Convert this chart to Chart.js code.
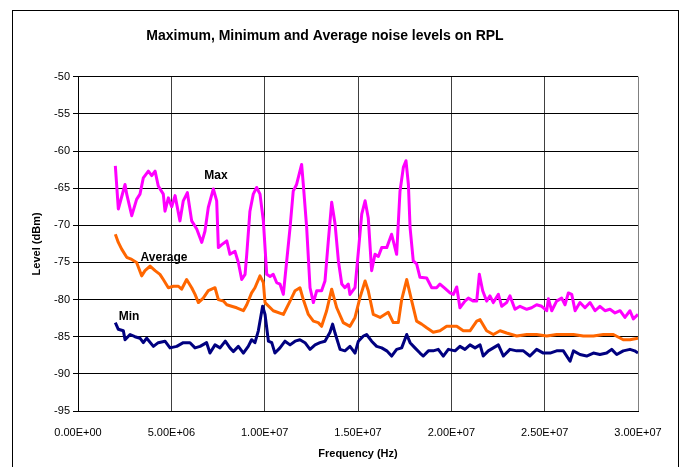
<!DOCTYPE html>
<html>
<head>
<meta charset="utf-8">
<script src="https://cdn.jsdelivr.net/npm/chart.js@4.4.1/dist/chart.umd.min.js"></script>
<style>
  html, body { margin: 0; padding: 0; background: #fff; }
  #wrap { width: 680px; height: 467px; }
</style>
</head>
<body>
<div id="wrap"><canvas id="grafico" width="680" height="467"></canvas></div>
<script>
// frequencies in MHz (converted to Hz below), levels in dBm
const maxFreq = [2.0, 2.16, 2.52, 2.61, 2.88, 3.14, 3.32, 3.50, 3.77, 3.95, 4.13, 4.30, 4.57, 4.66, 4.84, 5.02, 5.20, 5.46, 5.64, 5.86,
  6.09, 6.36, 6.63, 6.80, 6.98, 7.25, 7.43, 7.52, 7.70, 7.97, 8.14, 8.41, 8.59, 8.77, 8.95, 9.04, 9.21, 9.39, 9.57, 9.75,
  9.93, 10.11, 10.29, 10.46, 10.64, 10.82, 11.00, 11.18, 11.36, 11.53, 11.71, 11.98, 12.07, 12.25, 12.43, 12.61, 12.79, 13.05, 13.23, 13.41,
  13.59, 13.77, 13.95, 14.13, 14.30, 14.48, 14.57, 14.84, 15.02, 15.20, 15.38, 15.55, 15.73, 15.91, 16.09, 16.27, 16.54, 16.80, 17.07, 17.25,
  17.43, 17.57, 17.70, 17.79, 17.96, 18.14, 18.32, 18.68, 18.95, 19.21, 19.39, 19.66, 19.93, 20.11, 20.29, 20.46, 20.73, 20.91, 21.18, 21.36,
  21.50, 21.68, 21.89, 22.07, 22.25, 22.52, 22.70, 22.96, 23.14, 23.41, 23.68, 24.04, 24.30, 24.57, 24.84, 25.11, 25.20, 25.38, 25.64, 25.91,
  26.09, 26.27, 26.45, 26.63, 26.89, 27.16, 27.43, 27.70, 27.96, 28.23, 28.50, 28.77, 29.04, 29.30, 29.57, 29.75, 30.00];
const maxLevel = [-62.0, -67.8, -64.5, -65.8, -68.7, -66.5, -65.8, -63.6, -62.7, -63.3, -62.7, -64.7, -65.8, -68.1, -66.3, -67.5, -66.0, -69.4, -66.7, -65.6,
  -69.4, -70.5, -72.3, -70.8, -67.6, -65.1, -66.7, -73.0, -72.6, -72.1, -73.9, -73.5, -75.0, -77.3, -76.6, -73.9, -68.1, -65.8, -64.9, -65.8,
  -69.4, -76.6, -76.9, -76.6, -77.7, -77.9, -79.3, -74.8, -70.3, -65.4, -64.5, -61.8, -64.5, -70.3, -78.4, -80.4, -78.8, -78.8, -77.5, -72.1,
  -66.9, -69.8, -74.8, -77.9, -78.4, -77.9, -79.3, -78.4, -73.5, -68.5, -66.7, -69.0, -76.1, -73.9, -74.2, -73.0, -73.0, -71.2, -73.9, -65.4,
  -62.2, -61.3, -64.5, -70.3, -74.8, -75.2, -77.0, -77.1, -78.4, -78.4, -77.9, -78.5, -79.1, -79.3, -78.3, -81.1, -80.2, -79.8, -80.2, -80.2,
  -76.6, -78.8, -80.2, -79.5, -80.4, -79.3, -80.9, -80.4, -79.5, -81.3, -80.9, -81.3, -81.1, -80.7, -80.9, -81.5, -79.9, -81.5, -80.2, -79.8,
  -80.7, -79.1, -79.3, -81.5, -80.4, -81.1, -80.4, -81.5, -80.9, -81.5, -81.3, -81.8, -81.5, -82.4, -81.5, -82.6, -82.0];

const avgFreq = [2.0, 2.16, 2.34, 2.61, 2.88, 3.14, 3.41, 3.59, 3.86, 4.13, 4.39, 4.57, 4.84, 5.11, 5.38, 5.55, 5.82, 6.09, 6.27, 6.45,
  6.71, 6.98, 7.34, 7.52, 7.79, 7.97, 8.23, 8.50, 8.86, 9.04, 9.30, 9.48, 9.75, 9.93, 10.02, 10.46, 11.00, 11.36, 11.63, 11.89,
  12.07, 12.34, 12.61, 12.87, 13.05, 13.32, 13.59, 13.86, 14.21, 14.57, 14.84, 15.11, 15.38, 15.55, 15.82, 16.18, 16.62, 16.89, 17.16, 17.34,
  17.61, 17.88, 18.14, 18.41, 18.68, 19.03, 19.39, 19.75, 20.29, 20.64, 21.00, 21.36, 21.54, 21.89, 22.25, 22.61, 22.96, 23.50, 24.04, 24.57,
  25.11, 25.64, 26.54, 27.07, 27.61, 28.14, 28.68, 29.21, 29.57, 30.00];
const avgLevel = [-71.2, -72.3, -73.2, -74.3, -74.6, -75.0, -76.8, -76.1, -75.5, -76.1, -76.6, -77.3, -78.4, -78.2, -78.2, -78.6, -77.3, -78.4, -79.3, -80.4,
  -79.8, -78.8, -78.4, -80.0, -80.2, -80.7, -80.9, -81.1, -81.5, -80.7, -79.1, -78.4, -76.8, -77.7, -80.4, -81.5, -82.0, -80.2, -78.8, -78.4,
  -80.0, -82.0, -82.9, -83.1, -83.6, -81.5, -78.6, -81.1, -83.1, -83.6, -82.4, -79.7, -77.5, -78.8, -82.0, -82.4, -81.7, -83.1, -83.1, -80.0,
  -77.3, -80.2, -82.9, -83.3, -83.8, -84.4, -84.2, -83.6, -83.6, -84.2, -84.2, -82.9, -82.7, -84.2, -84.7, -84.2, -84.5, -84.9, -84.7, -84.7,
  -84.9, -84.7, -84.7, -84.9, -84.9, -84.7, -84.7, -85.4, -85.4, -85.2];

const minFreq = [2.0, 2.16, 2.43, 2.52, 2.79, 3.05, 3.32, 3.50, 3.68, 4.04, 4.30, 4.66, 4.93, 5.29, 5.64, 6.00, 6.27, 6.54, 6.89, 7.07,
  7.34, 7.61, 7.89, 8.14, 8.32, 8.59, 8.86, 9.12, 9.30, 9.48, 9.66, 9.89, 10.02, 10.20, 10.38, 10.55, 10.82, 11.09, 11.36, 11.63,
  11.89, 12.16, 12.43, 12.70, 12.96, 13.23, 13.50, 13.64, 13.77, 14.04, 14.30, 14.57, 14.84, 15.02, 15.29, 15.46, 15.73, 16.00, 16.27, 16.54,
  16.80, 17.07, 17.34, 17.61, 17.79, 18.05, 18.32, 18.50, 18.77, 19.03, 19.30, 19.57, 19.84, 20.20, 20.46, 20.73, 21.00, 21.27, 21.54, 21.71,
  21.98, 22.25, 22.52, 22.79, 23.14, 23.50, 23.86, 24.21, 24.57, 24.93, 25.29, 25.64, 26.00, 26.36, 26.54, 26.89, 27.25, 27.61, 27.96, 28.32,
  28.59, 28.86, 29.21, 29.57, 29.82, 30.00];
const minLevel = [-83.1, -84.0, -84.2, -85.4, -84.7, -85.0, -85.2, -85.8, -85.2, -86.3, -85.8, -85.6, -86.5, -86.3, -85.8, -85.8, -86.5, -86.3, -85.8, -87.2,
  -86.1, -86.5, -85.6, -86.5, -87.0, -86.3, -87.2, -86.3, -85.4, -85.8, -84.2, -80.9, -82.0, -85.6, -85.8, -87.2, -86.5, -85.6, -86.1, -85.6,
  -85.4, -85.8, -86.7, -86.1, -85.8, -85.6, -84.4, -83.3, -84.5, -86.7, -86.9, -86.3, -87.2, -85.6, -84.9, -84.7, -85.6, -86.3, -86.5, -86.9,
  -87.6, -86.7, -86.5, -84.7, -85.8, -86.5, -87.2, -87.6, -86.9, -86.9, -86.7, -87.6, -86.7, -86.9, -86.3, -86.7, -86.1, -86.5, -86.1, -87.6,
  -86.9, -86.5, -86.1, -87.6, -86.7, -86.9, -86.9, -87.6, -86.7, -87.2, -87.2, -86.9, -86.9, -88.3, -86.9, -87.4, -87.6, -87.2, -87.4, -87.2,
  -86.7, -87.4, -86.9, -86.7, -86.9, -87.2];

const xTicks = [0, 5e6, 1e7, 1.5e7, 2e7, 2.5e7, 3e7];

// series name labels drawn inside the plot (MHz, dBm)
const seriesLabels = [
  { text: 'Max', f: 7.39, v: -63.3 },
  { text: 'Average', f: 4.61, v: -74.3 },
  { text: 'Min', f: 2.73, v: -82.3 }
];

const FONT = 'Arial, "Liberation Sans", sans-serif';

function pares(freqs, levels) {
  return freqs.map((f, i) => ({ x: f * 1e6, y: levels[i] }));
}

function sci(v) {
  let s = v.toExponential(2).toUpperCase();
  return s.replace(/E([+-])(\d)$/, 'E$10$2');
}

const marco = {
  id: 'marco',
  afterDraw(chart) {
    const c = chart.ctx;
    c.save();
    c.strokeStyle = '#000';
    c.lineWidth = 1;
    c.strokeRect(12.5, 10.5, 666, 480);
    // labels for the series
    c.font = 'bold 12px ' + FONT;
    c.fillStyle = '#000';
    c.textAlign = 'center';
    c.textBaseline = 'middle';
    seriesLabels.forEach(l => {
      c.fillText(l.text, chart.scales.x.getPixelForValue(l.f * 1e6), chart.scales.y.getPixelForValue(l.v));
    });
    // right edge of plot area
    const a = chart.chartArea;
    c.strokeStyle = '#808080';
    c.beginPath();
    c.moveTo(Math.round(a.right) + 0.5, a.top);
    c.lineTo(Math.round(a.right) + 0.5, a.bottom);
    c.stroke();
    c.restore();
  }
};

const ctx = document.getElementById('grafico').getContext('2d');
const myChart = new Chart(ctx, {
  type: 'line',
  data: {
    datasets: [
      { label: 'Max', data: pares(maxFreq, maxLevel), borderColor: '#FF00FF', borderWidth: 3 },
      { label: 'Average', data: pares(avgFreq, avgLevel), borderColor: '#FF6600', borderWidth: 3 },
      { label: 'Min', data: pares(minFreq, minLevel), borderColor: '#000080', borderWidth: 3 }
    ]
  },
  options: {
    responsive: false,
    animation: false,
    elements: { point: { radius: 0 }, line: { tension: 0, borderJoinStyle: 'round' } },
    layout: { padding: { left: 12, right: 42, top: 10, bottom: 6 } },
    plugins: {
      legend: { display: false },
      tooltip: { enabled: false },
      title: {
        display: true,
        text: 'Maximum, Minimum and Average noise levels on RPL',
        color: '#000',
        font: { family: FONT, size: 14, weight: 'bold' },
        padding: { top: 18, bottom: 32 }
      }
    },
    scales: {
      x: {
        type: 'linear',
        min: 0,
        max: 3e7,
        afterBuildTicks: s => { s.ticks = xTicks.map(v => ({ value: v })); },
        afterFit: s => { s.height = 50; },
        grid: { color: '#404040', lineWidth: 1, drawTicks: false },
        border: { color: '#000', width: 1 },
        ticks: { color: '#000', font: { family: FONT, size: 11 }, padding: 15, maxRotation: 0, callback: v => sci(v) },
        title: { display: true, text: 'Frequency (Hz)', color: '#000', font: { family: FONT, size: 11, weight: 'bold' }, padding: { top: 4, bottom: 0 } }
      },
      y: {
        min: -95,
        max: -50,
        afterFit: s => { s.width = 66; },
        grid: { color: '#000', lineWidth: 1, tickLength: 5, drawTicks: true },
        border: { color: '#000', width: 1 },
        ticks: { stepSize: 5, color: '#000', font: { family: FONT, size: 11 }, padding: 3 },
        title: { display: true, text: 'Level (dBm)', color: '#000', font: { family: FONT, size: 11, weight: 'bold' }, padding: { top: 18, bottom: 0 } }
      }
    }
  },
  plugins: [marco]
});
</script>
</body>
</html>
